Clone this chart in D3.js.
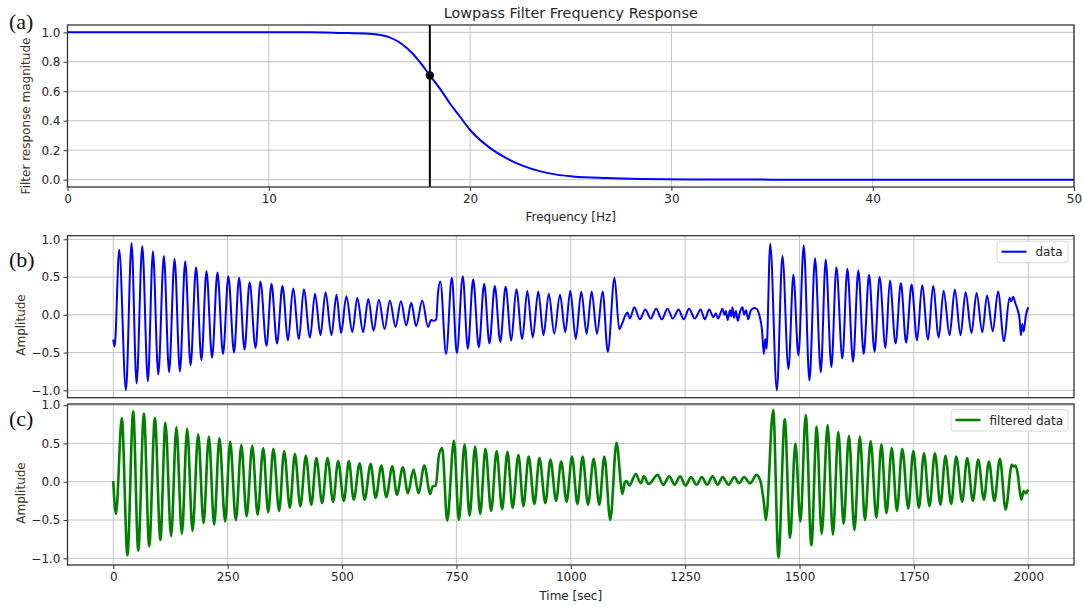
<!DOCTYPE html>
<html>
<head>
<meta charset="utf-8">
<script src="https://cdn.jsdelivr.net/npm/d3@7"></script>
<style>
  body { margin: 0; background: #fff; }
  text { font-family: "DejaVu Sans", sans-serif; fill: #262626; }
  .tag { font-family: "Liberation Serif", serif; font-size: 22px; fill: #111; }
  .ylab { fill: #40372e; font-size: 12px; }
</style>
</head>
<body>
<svg id="chart" width="1083" height="606"></svg>
<script>
// ---- panel (a): filter response
const freqHz = [0, 5, 10, 12, 13.5, 15, 16, 16.9, 17.5, 18, 18.5, 19, 19.5, 20, 21, 21.8, 22.7, 23.5, 24.3, 25.1, 26.8, 28.5, 31, 35, 40, 50];
const gain   = [1, 1, 1, 1, 0.996, 0.99, 0.966, 0.888, 0.80, 0.707, 0.618, 0.517, 0.427, 0.337, 0.214, 0.146, 0.09, 0.056, 0.034, 0.022, 0.011, 0.005, 0.001, 0, 0, 0];
const cutoffHz = 18;
const cutoffGain = 0.707;
const freqTicks = [0, 10, 20, 30, 40, 50];
const gainTicks = [0, 0.2, 0.4, 0.6, 0.8, 1.0];

// ---- panel (b): raw data, [time sec, amplitude] at turning points
const rawData = [
  [0,-0.33],[3,-0.42],[13,0.86],[27.7,-1.0],[40,0.95],[51,-0.91],[63.4,0.91],[75.7,-0.88],[86.7,0.84],[98.4,-0.79],
  [110.7,0.78],[122,-0.76],[134,0.74],[145.7,-0.75],[157.3,0.71],[169,-0.67],[181,0.63],[192.8,-0.60],[203.7,0.58],
  [216,-0.57],[227.7,0.56],[240,-0.52],[251.6,0.51],[264,-0.50],[275,0.49],[287,-0.46],[298,0.43],[311,-0.44],
  [321.6,0.44],[335,-0.41],[345.8,0.41],[358,-0.38],[369.8,0.38],[382,-0.34],[393,0.35],[406,-0.32],[416.5,0.34],
  [430,-0.30],[441,0.28],[453,-0.27],[464,0.30],[477,-0.27],[488,0.265],[498,-0.24],[509.5,0.247],[522.6,-0.23],
  [533.5,0.225],[546,-0.23],[557.5,0.21],[569,-0.21],[580.7,0.2],[593,-0.19],[604.7,0.19],[617,-0.16],[628.8,0.18],
  [640.5,-0.14],[651.4,0.16],[662,-0.15],[675.5,0.19],[688,-0.16],[695,-0.07],[700,-0.08],[706,-0.06],
  [710,0.3],[715,0.44],[727.5,-0.52],[740,0.49],[751,-0.51],[764,0.51],[775,-0.45],[786.7,0.47],[799,-0.43],
  [810.7,0.41],[822.3,-0.38],[834,0.38],[846,-0.36],[857.6,0.37],[870,-0.34],[881,0.34],[894,-0.32],[905,0.32],
  [917,-0.30],[929,0.31],[940.5,-0.27],[952,0.28],[964,-0.25],[976.5,0.265],[988,-0.23],[999,0.32],[1011,-0.32],
  [1023,0.31],[1034.7,-0.25],[1045.7,0.31],[1057.3,-0.25],[1069.7,0.31],[1081,-0.49],[1095.7,0.49],[1106,-0.19],
  [1112,-0.12],[1120,0.0],[1124,0.03],[1129,-0.05],[1139,0.10],[1151,-0.06],[1163,0.07],[1175,-0.05],[1186.5,0.08],
  [1199,-0.06],[1211.5,0.08],[1223,-0.05],[1235.6,0.07],[1247,-0.06],[1258.6,0.08],[1271,-0.05],[1284,0.07],
  [1293,-0.06],[1302.6,0.07],[1312,-0.03],[1317,0.02],[1322,-0.05],[1331.7,0.08],[1336,0.0],[1339,0.05],[1343,-0.07],
  [1348,0.06],[1351,-0.02],[1353.6,0.10],[1357,-0.04],[1361,0.05],[1365,-0.08],[1370,0.04],[1375.4,0.10],[1379,0.0],
  [1383,0.06],[1388,-0.06],[1393,0.05],[1400.8,0.09],[1406,0.08],[1412,0.0],[1418,-0.2],[1422,-0.52],[1425,-0.32],
  [1428,-0.45],[1436,0.94],[1450.5,-1.0],[1462.7,0.78],[1475.8,-0.72],[1486.7,0.53],[1497.6,-0.54],[1509.3,0.92],
  [1521.7,-0.87],[1534,0.75],[1546.5,-0.76],[1557.3,0.73],[1569.7,-0.69],[1580.7,0.63],[1593.7,-0.58],[1604.6,0.61],
  [1617,-0.62],[1628.6,0.59],[1640.3,-0.52],[1652,0.53],[1664,-0.49],[1675,0.50],[1688,-0.44],[1697.5,0.455],
  [1710,-0.38],[1721.6,0.42],[1733,-0.37],[1745,0.40],[1757,-0.34],[1768,0.39],[1781,-0.33],[1792,0.38],
  [1804.3,-0.30],[1815,0.32],[1828,-0.27],[1839.5,0.335],[1852,-0.27],[1863,0.30],[1876,-0.24],[1887,0.29],
  [1899.5,-0.23],[1910,0.256],[1922.4,-0.22],[1934,0.31],[1947,-0.35],[1959,0.23],[1963,0.18],[1967,0.24],
  [1972,0.15],[1976,0.08],[1981,-0.05],[1984,-0.27],[1987,-0.12],[1990,-0.22],[1995,0.0],[2000,0.1]
];

// ---- panel (c): filtered data, [time sec, amplitude]
const filteredData = [
  [0,0.01],[6,-0.42],[18.7,0.83],[31,-0.96],[43.6,0.92],[54.6,-0.90],[67,0.89],[78.6,-0.84],[91,0.83],[103,-0.76],
  [114,0.77],[126.5,-0.71],[138,0.71],[150,-0.68],[161.6,0.69],[173.3,-0.64],[185.7,0.62],[197.3,-0.54],[209,0.59],
  [220.6,-0.56],[232,0.57],[244.6,-0.52],[255.5,0.52],[268,-0.50],[280,0.48],[291.5,-0.45],[303.8,0.47],[315.5,-0.43],
  [327.8,0.44],[338.7,-0.40],[350,0.43],[362.6,-0.38],[373.5,0.40],[386,-0.34],[397,0.36],[409,-0.32],[421,0.34],
  [433,-0.30],[444,0.31],[456.6,-0.28],[468.3,0.31],[480.6,-0.265],[491.5,0.27],[504,-0.25],[515,0.27],[525.5,-0.235],
  [538.6,0.24],[549.5,-0.235],[562.6,0.235],[573.5,-0.21],[586,0.21],[596.8,-0.20],[610,0.20],[620,-0.17],[633,0.19],
  [644,-0.15],[656.4,0.16],[667,-0.15],[680,0.21],[692.8,-0.16],[698,-0.06],[705,-0.05],[712,0.35],[719,0.44],
  [730,-0.51],[744.6,0.535],[755.5,-0.50],[768,0.49],[778.8,-0.44],[791,0.46],[802,-0.42],[813.6,0.43],[826,-0.38],
  [838,0.40],[850,-0.36],[861.6,0.39],[873,-0.34],[885.6,0.35],[896.5,-0.32],[908,0.33],[920.6,-0.29],[931.5,0.31],
  [944.6,-0.28],[955.5,0.29],[968,-0.25],[979,0.265],[991,-0.26],[1002.8,0.33],[1014.5,-0.29],[1026,0.33],
  [1037.7,-0.30],[1050,0.30],[1062.4,-0.30],[1073.4,0.33],[1086.5,-0.50],[1100,0.51],[1113,-0.16],[1118,-0.01],
  [1122,0.01],[1128,-0.05],[1142,0.10],[1153,-0.02],[1160,0.07],[1170,-0.03],[1190,0.09],[1202,-0.04],[1215.6,0.07],
  [1227,-0.04],[1239,0.07],[1251,-0.05],[1263,0.06],[1275,-0.04],[1286.5,0.06],[1298,-0.04],[1310,0.07],
  [1321,-0.04],[1332,0.06],[1345,-0.04],[1357.4,0.06],[1368,-0.02],[1379,0.06],[1392,-0.02],[1406,0.09],
  [1415,0.0],[1422.6,-0.3],[1426.5,-0.50],[1442.5,0.94],[1454,-0.99],[1467.8,0.82],[1479.4,-0.73],[1491,0.50],
  [1502,-0.52],[1513.6,0.87],[1526,-0.83],[1537.6,0.72],[1548.4,-0.68],[1561.5,0.74],[1573,-0.69],[1584.8,0.65],
  [1596.5,-0.55],[1608,0.60],[1620,-0.63],[1632,0.59],[1643,-0.50],[1655.5,0.53],[1668,-0.47],[1679,0.49],
  [1690,-0.41],[1701.6,0.44],[1713,-0.38],[1724.6,0.43],[1737.7,-0.35],[1748.6,0.40],[1761,-0.34],[1772,0.37],
  [1784,-0.32],[1796,0.37],[1808,-0.30],[1819,0.34],[1831.6,-0.29],[1842.5,0.33],[1855.6,-0.26],[1866.5,0.31],
  [1879,-0.25],[1890.6,0.29],[1903,-0.235],[1914,0.265],[1926,-0.25],[1938,0.30],[1950.6,-0.365],[1964,0.22],
  [1968,0.20],[1972,0.21],[1977,0.10],[1981,-0.1],[1985,-0.235],[1990,-0.12],[1995,-0.15],[2000,-0.1]
];
const timeTicks = [0, 250, 500, 750, 1000, 1250, 1500, 1750, 2000];
const ampTicks = [-1.0, -0.5, 0.0, 0.5, 1.0];

const svg = d3.select("#chart");
const left = 67.5, right = 1074;
const fmt = d3.format(".1f");

// draws frame, grid and ticks for one panel
function panel(x, y, top, bottom, xt, yt, showX, xfmt) {
  let g = svg.append("g");
  g.append("g").selectAll("line").data(xt).join("line")
    .attr("x1", d => x(d)).attr("x2", d => x(d)).attr("y1", top).attr("y2", bottom)
    .attr("stroke", "#c4c4c4").attr("stroke-width", 1);
  g.append("g").selectAll("line").data(yt).join("line")
    .attr("x1", left).attr("x2", right).attr("y1", d => y(d)).attr("y2", d => y(d))
    .attr("stroke", "#c4c4c4").attr("stroke-width", 1);

  let ya = g.append("g").attr("transform", `translate(${left},0)`)
    .call(d3.axisLeft(y).tickValues(yt).tickFormat(fmt).tickSize(4).tickPadding(3));
  let xa = g.append("g").attr("transform", `translate(0,${bottom})`)
    .call(d3.axisBottom(x).tickValues(xt).tickFormat(xfmt).tickSize(showX ? 4 : 0).tickPadding(3));
  if (!showX) xa.selectAll("text").remove();
  [ya, xa].forEach(a => {
    a.select(".domain").remove();
    a.selectAll("line").attr("stroke", "#333");
    a.selectAll("text").attr("font-size", 12).attr("font-family", "DejaVu Sans").attr("fill", "#262626");
  });
  return g;
}

function frame(top, bottom) {
  svg.append("rect").attr("x", left).attr("y", top).attr("width", right - left).attr("height", bottom - top)
    .attr("fill", "none").attr("stroke", "#333").attr("stroke-width", 1.3);
}

// ---------- (a)
const aTop = 25, aBot = 187;
const xF = d3.scaleLinear().domain([0, 50]).range([left, right]);
const yG = d3.scaleLinear().domain([-0.05, 1.05]).range([aBot, aTop]);
panel(xF, yG, aTop, aBot, freqTicks, gainTicks, true, d3.format("d"));

svg.append("clipPath").attr("id", "clipA").append("rect")
  .attr("x", left).attr("y", aTop).attr("width", right - left).attr("height", aBot - aTop);

svg.append("path")
  .datum(freqHz.map((f, i) => [f, gain[i]]))
  .attr("clip-path", "url(#clipA)")
  .attr("fill", "none").attr("stroke", "#0000ff").attr("stroke-width", 2)
  .attr("d", d3.line().x(d => xF(d[0])).y(d => yG(d[1])).curve(d3.curveMonotoneX));

svg.append("line")
  .attr("x1", xF(cutoffHz)).attr("x2", xF(cutoffHz)).attr("y1", aTop).attr("y2", aBot)
  .attr("stroke", "#000").attr("stroke-width", 2);
svg.append("circle").attr("cx", xF(cutoffHz)).attr("cy", yG(cutoffGain)).attr("r", 4.2).attr("fill", "#000");
frame(aTop, aBot);

svg.append("text").attr("x", (left + right) / 2).attr("y", 17.5).attr("text-anchor", "middle")
  .attr("font-size", 14.4).text("Lowpass Filter Frequency Response");
svg.append("text").attr("x", (left + right) / 2).attr("y", 221).attr("text-anchor", "middle")
  .attr("font-size", 12).text("Frequency [Hz]");
svg.append("text").attr("class", "ylab").attr("transform", "translate(29.5,116) rotate(-90)")
  .attr("text-anchor", "middle").text("Filter response magnitude");

// ---------- (b) and (c)
const xT = d3.scaleLinear().domain([-100, 2100]).range([left, right]);

function signalPanel(rows, top, bottom, yDomain, color, width, name, legendX, labelY) {
  let y = d3.scaleLinear().domain(yDomain).range([bottom, top]);
  panel(xT, y, top, bottom, timeTicks, ampTicks, top > 400, d3.format("d"));
  svg.append("path").datum(rows)
    .attr("fill", "none").attr("stroke", color).attr("stroke-width", width)
    .attr("stroke-linejoin", "round")
    .attr("d", d3.line().x(d => xT(d[0])).y(d => y(d[1])).curve(d3.curveMonotoneX));
  frame(top, bottom);

  // legend
  let lg = svg.append("g");
  lg.append("rect").attr("x", legendX).attr("y", top + 5.5).attr("width", right - 6 - legendX).attr("height", 21.5)
    .attr("rx", 3).attr("fill", "#fff").attr("fill-opacity", 0.8).attr("stroke", "#d8d8d8");
  lg.append("line").attr("x1", legendX + 4.5).attr("x2", legendX + 29.5)
    .attr("y1", top + 16).attr("y2", top + 16).attr("stroke", color).attr("stroke-width", width);
  lg.append("text").attr("x", legendX + 38.5).attr("y", top + 20.5).attr("font-size", 12).text(name);

  svg.append("text").attr("class", "ylab").attr("transform", `translate(24.5,${labelY}) rotate(-90)`)
    .attr("text-anchor", "middle").text("Amplitude");
}

signalPanel(rawData, 235.7, 397.7, [-1.0975, 1.0475], "#0000ff", 2, "data", 997, 325);
signalPanel(filteredData, 404, 565, [-1.087, 1.015], "#008000", 2.6, "filtered data", 951, 493);

svg.append("text").attr("x", (left + right) / 2).attr("y", 600).attr("text-anchor", "middle")
  .attr("font-size", 12).text("Time [sec]");

// panel tags
[["(a)", 28.5], ["(b)", 267], ["(c)", 426]].forEach(([t, yy]) => {
  svg.append("text").attr("class", "tag").attr("x", 9).attr("y", yy).text(t);
});
</script>
</body>
</html>
